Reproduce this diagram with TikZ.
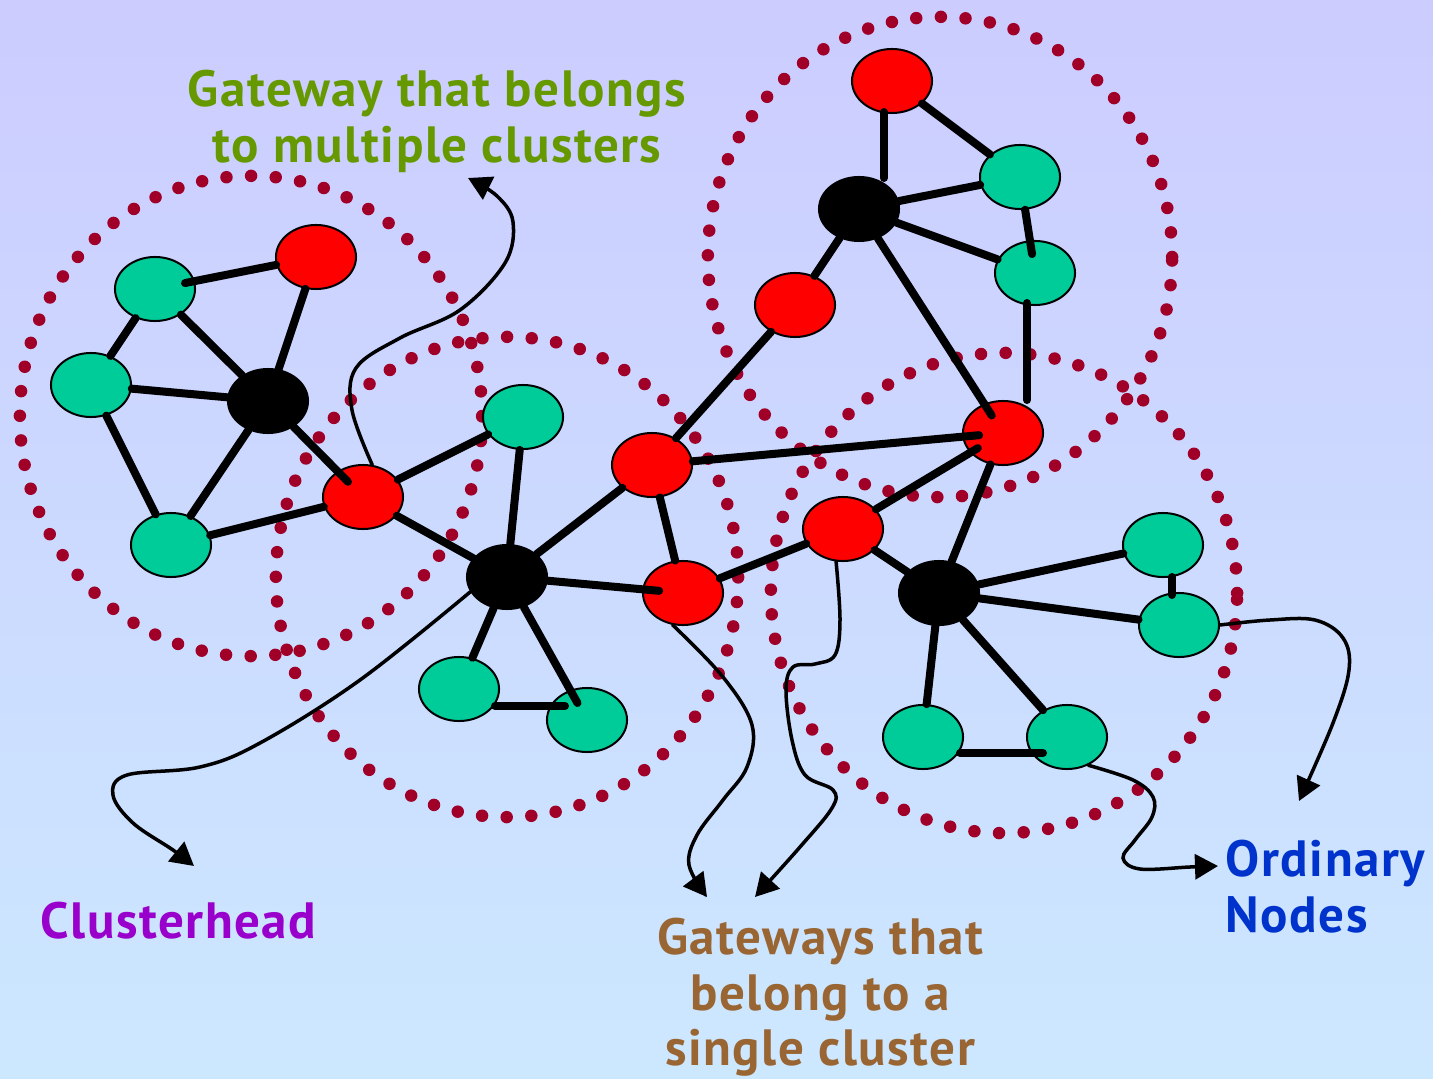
\documentclass[tikz,border=0pt]{standalone}
\usepackage{fontspec}
\newfontfamily\lblfont{PT Sans}[LetterSpace=3]
\usetikzlibrary{arrows.meta,shapes.geometric,calc}

\definecolor{bgtop}{RGB}{204,204,255}
\definecolor{bgbot}{RGB}{204,232,255}
\definecolor{ordgreen}{RGB}{0,204,153}
\definecolor{gwred}{RGB}{255,0,0}
\definecolor{dotred}{RGB}{160,0,40}
\definecolor{txtgreen}{RGB}{102,153,0}
\definecolor{txtpurple}{RGB}{153,0,204}
\definecolor{txtbrown}{RGB}{153,102,51}
\definecolor{txtblue}{RGB}{0,51,204}

\begin{document}
\begin{tikzpicture}[x=0.01cm,y=-0.01cm,
  netnode/.style={ellipse, draw=black, line width=0.02cm, minimum width=0.80cm, minimum height=0.64cm, inner sep=0pt},
  ordinary/.style={netnode, fill=ordgreen},
  gateway/.style={netnode, fill=gwred},
  head/.style={netnode, fill=black},
  link/.style={line width=0.08cm, line cap=round},
  cluster/.style={draw=dotred, line width=0.125cm, line cap=round, dash pattern=on 0pt off 0.2466cm},
  pointer/.style={line width=0.035cm, line cap=round, -{Triangle[length=0.23cm,width=0.25cm]}},
  caption/.style={font=\lblfont\bfseries\fontsize{14.5}{15.9}\selectfont, inner sep=0pt}
]
% background
\shade[top color=bgtop, bottom color=bgbot] (0,0) rectangle (1433,1079);
\useasboundingbox (0,0) rectangle (1433,1079);

% cluster boundaries
\draw[cluster] (251,416) ellipse [x radius=2.31cm, y radius=2.40cm];
\draw[cluster] (507,577) ellipse [x radius=2.31cm, y radius=2.40cm];
\draw[cluster] (940,257) ellipse [x radius=2.32cm, y radius=2.40cm];
\draw[cluster] (1004,593) ellipse [x radius=2.33cm, y radius=2.40cm];

% clusterheads
\node[head] (ch1) at (268,401) {};
\node[head] (ch2) at (507,577) {};
\node[head] (ch3) at (859,209) {};
\node[head] (ch4) at (939,593) {};

% gateways
\node[gateway] (gw1) at (316,257) {};
\node[gateway] (gw2) at (363,497) {};
\node[gateway] (gw3) at (652,465) {};
\node[gateway] (gw4) at (683,593) {};
\node[gateway] (gw5) at (892,81) {};
\node[gateway] (gw6) at (795,305) {};
\node[gateway] (gw7) at (1003,433) {};
\node[gateway] (gw8) at (843,529) {};

% ordinary nodes
\node[ordinary] (on1) at (155,289) {};
\node[ordinary] (on2) at (91,385) {};
\node[ordinary] (on3) at (171,545) {};
\node[ordinary] (on4) at (523,417) {};
\node[ordinary] (on5) at (459,689) {};
\node[ordinary] (on6) at (587,720) {};
\node[ordinary] (on7) at (1020,177) {};
\node[ordinary] (on8) at (1035,273) {};
\node[ordinary] (on9) at (1163,545) {};
\node[ordinary] (on10) at (1179,625) {};
\node[ordinary] (on11) at (923,737) {};
\node[ordinary] (on12) at (1067,737) {};

% links, left cluster
\draw[link, shorten <=-0.10cm] (on1) -- (gw1);
\draw[link] (on1) -- (on2);
\draw[link] (on1) -- (ch1);
\draw[link] (gw1) -- (ch1);
\draw[link] (on2) -- (ch1);
\draw[link] (on2) -- (on3);
\draw[link] (ch1) -- (on3);
\draw[link, shorten >=-0.15cm] (ch1) -- (gw2);
\draw[link] (on3) -- (gw2);

% links, middle cluster
\draw[link] (gw2) -- (on4);
\draw[link] (gw2) -- (ch2);
\draw[link] (on4) -- (ch2);
\draw[link] (ch2) -- (gw3);
\draw[link, shorten >=-0.17cm] (ch2) -- (gw4);
\draw[link] (ch2) -- (on5);
\draw[link, shorten >=-0.15cm] (ch2) -- (on6);
\draw[link] ($(on5)+(36,17)$) -- ($(on6)+(-22,-14)$);
\draw[link] (gw3) -- (gw4);
\draw[link] (gw3) -- (gw6);
\draw[link, shorten >=-0.17cm] (gw3) -- (gw7);
\draw[link] (gw4) -- (gw8);

% links, upper right cluster
\draw[link] ($(gw5)+(-8,31)$) -- ($(ch3)+(25,-31)$);
\draw[link] (gw5) -- (on7);
\draw[link] (ch3) -- (on7);
\draw[link] (ch3) -- (on8);
\draw[link, shorten >=-0.14cm] (on7) -- (on8);
\draw[link] (ch3) -- (gw6);
\draw[link, shorten >=-0.14cm] (ch3) -- (gw7);
\draw[link] ($(on8)+(-8,30)$) -- ($(gw7)+(24,-33)$);

% links, lower right cluster
\draw[link, shorten <=-0.09cm] (gw7) -- (gw8);
\draw[link] (gw7) -- (ch4);
\draw[link] (gw8) -- (ch4);
\draw[link] (ch4) -- (on9);
\draw[link] (ch4) -- (on10);
\draw[link] ($(on9)+(9,32)$) -- ($(on10)+(-7,-30)$);
\draw[link] (ch4) -- (on11);
\draw[link] (ch4) -- (on12);
\draw[link] ($(on11)+(37,16)$) -- ($(on12)+(-24,16)$);

% captions
\node[caption, text=txtgreen, align=center, anchor=north] (tmulti) at (437,69)
  {Gateway that belongs\\to multiple clusters};
\node[caption, text=txtpurple, anchor=north west] (thead) at (40,901) {Clusterhead};
\node[caption, text=txtbrown, align=center, anchor=north] (tsingle) at (820,917)
  {Gateways that\\belong to a\\single cluster};
\node[caption, text=txtblue, align=left, anchor=north west] (tord) at (1225,839)
  {Ordinary\\Nodes};

% pointers towards the captions
\coordinate (pmulti) at (468,178);
\coordinate (phead) at (194,866);
\coordinate (psingleA) at (707,897);
\coordinate (psingleB) at (755,897);
\coordinate (pordA) at (1299,801);
\coordinate (pordB) at (1218,866);

\draw[pointer] plot[smooth, tension=0.6] coordinates {(gw2.74) (352,410) (356,368) (400,338) (460,310) (505,263) (513,222) (497,196) (pmulti)};
\draw[pointer] plot[smooth, tension=0.6] coordinates {(ch2.202) (360,680) (260,743) (200,767) (127,775) (113,795) (133,823) (173,850) (phead)};
\draw[pointer] plot[smooth, tension=0.6] coordinates {(gw4.252) (723,677) (752,725) (747,767) (723,800) (697,835) (689,865) (psingleA)};
\draw[pointer] plot[smooth, tension=0.6] coordinates {(gw8.258) (840,620) (835,655) (815,664) (793,667) (786,690) (792,740) (805,775) (833,790) (832,808) (800,847) (psingleB)};
\draw[pointer] plot[smooth, tension=0.6] coordinates {(on10.east) (1270,620) (1315,620) (1343,638) (1349,670) (1333,723) (pordA)};
\draw[pointer] plot[smooth, tension=0.6] coordinates {(on12.307) (1133,780) (1153,797) (1152,817) (1135,840) (1123,858) (1140,869) (1190,867) (pordB)};
\end{tikzpicture}
\end{document}
